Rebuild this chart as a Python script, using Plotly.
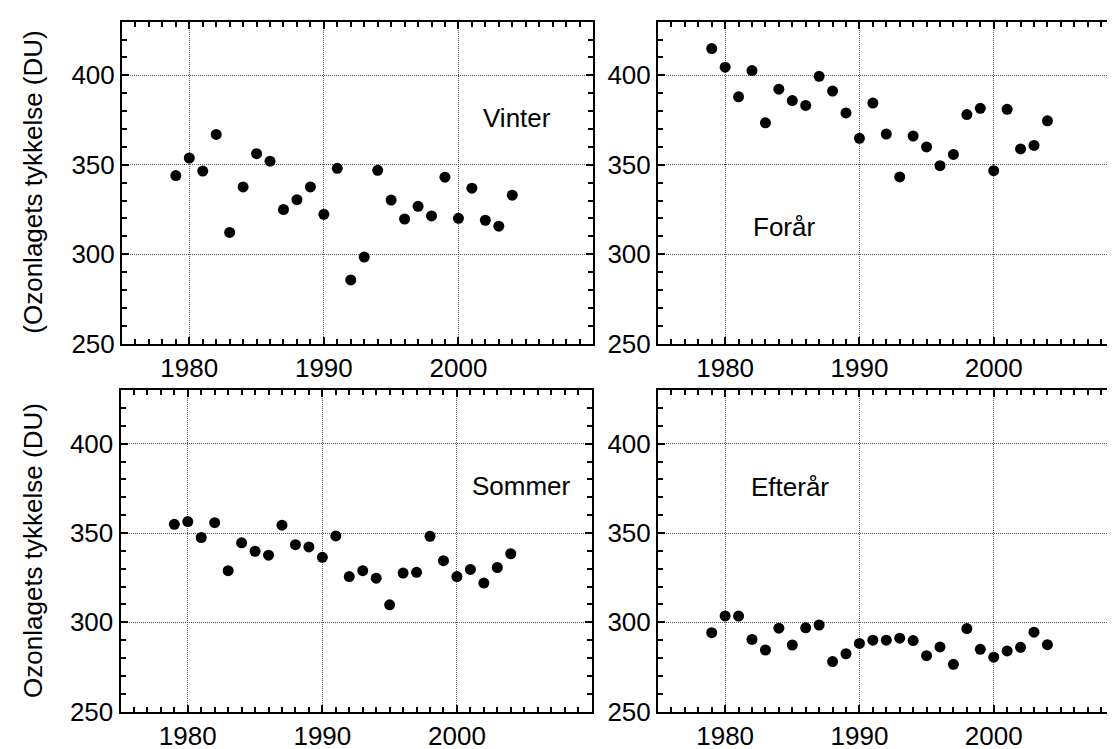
import plotly.graph_objects as go

years = list(range(1979, 2005))

vinter = [344.0, 353.8, 346.5, 367.0, 312.2, 337.6, 356.2, 352.0, 325.0, 330.5,
          337.6, 322.3, 348.0, 285.6, 298.4, 346.9, 330.3, 319.7, 326.8, 321.4,
          343.1, 320.1, 336.9, 319.0, 315.7, 333.0]
foraar = [415.0, 404.6, 388.0, 402.7, 373.5, 392.3, 385.9, 383.2, 399.5, 391.2,
          379.0, 364.8, 384.5, 367.2, 343.2, 366.1, 360.0, 349.5, 355.8, 378.1,
          381.6, 346.7, 381.0, 358.9, 360.8, 374.6]
sommer = [354.9, 356.4, 347.5, 355.8, 328.9, 344.5, 339.8, 337.6, 354.4, 343.5,
          342.2, 336.4, 348.4, 325.6, 328.9, 324.7, 309.8, 327.6, 328.0, 348.2,
          334.5, 325.6, 329.6, 322.0, 330.7, 338.4]
efteraar = [294.2, 303.6, 303.5, 290.4, 284.5, 296.7, 287.3, 296.9, 298.5, 278.0,
            282.4, 288.2, 290.0, 290.0, 291.1, 289.8, 281.3, 286.2, 276.5, 296.5,
            284.9, 280.5, 284.0, 286.0, 294.5, 287.5]

season_labels = ["Vinter", "Forår", "Sommer", "Efterår"]
label_pos = [(2001.7, 376.0), (1981.9, 315.0), (2001.0, 376.5), (1981.8, 376.0)]
y_titles = ["(Ozonlagets tykkelse (DU)", "Ozonlagets tykkelse (DU)"]
x_ticks = [1980, 1990, 2000]
y_ticks = [250, 300, 350, 400]

W, H = 1115, 749
FONT = "Arial, 'Liberation Sans', sans-serif"
FS = 26

# panel boxes in pixels: (left, right, top, bottom)
boxes = [(114, 585, 14, 342.5), (650, 1115, 14, 342.5),
         (112.5, 583.5, 390, 718), (650, 1115, 390, 718)]
series = [vinter, foraar, sommer, efteraar]

fig = go.Figure()
layout = dict(width=W, height=H, margin=dict(l=0, r=0, t=0, b=0),
              paper_bgcolor="white", plot_bgcolor="white", showlegend=False,
              font=dict(family=FONT, size=FS, color="black"))
annotations = []
for i, (b, vals) in enumerate(zip(boxes, series)):
    n = "" if i == 0 else str(i + 1)
    l, r, t, bt = b
    right_col = i in (1, 3)
    xmax = 1975 + (r - l) / (470.0 / 35.0) if right_col else 2010
    layout["xaxis" + n] = dict(
        domain=[l / W, r / W], range=[1975, xmax], anchor="y" + n,
        tickvals=x_ticks, ticks="inside", ticklen=7, tickwidth=1.5, tickcolor="black",
        showline=True, linewidth=2, linecolor="black", mirror="allticks",
        showgrid=True, gridcolor="#555", griddash="1px,1px", gridwidth=1,
        zeroline=False, tickfont=dict(family=FONT, size=FS, color="black"),
        minor=dict(dtick=1, tick0=1975, ticks="inside", ticklen=5, tickwidth=1.5,
                   tickcolor="black", showgrid=False),
    )
    layout["yaxis" + n] = dict(
        domain=[1 - bt / H, 1 - t / H], range=[250, 430], anchor="x" + n,
        tickvals=y_ticks, ticks="inside", ticklen=7, tickwidth=1.5, tickcolor="black",
        showline=True, linewidth=2, linecolor="black",
        mirror=False if right_col else "allticks",
        showgrid=True, gridcolor="#555", griddash="1px,1px", gridwidth=1,
        zeroline=False, tickfont=dict(family=FONT, size=FS, color="black"),
        minor=dict(dtick=10, tick0=250, ticks="inside", ticklen=5, tickwidth=1.5,
                   tickcolor="black", showgrid=False),
    )
    fig.add_trace(go.Scatter(x=years, y=vals, mode="markers",
                             marker=dict(color="black", size=11),
                             xaxis="x" + n, yaxis="y" + n, cliponaxis=False))
    ax, ay = label_pos[i]
    annotations.append(dict(text=season_labels[i], x=ax, y=ay, xref="x" + n, yref="y" + n,
                            xanchor="left", yanchor="middle", showarrow=False,
                            font=dict(family=FONT, size=FS, color="black")))

for j, title in enumerate(y_titles):
    t, bt = (14, 342.5) if j == 0 else (390, 718)
    annotations.append(dict(text=title, x=25 / W, y=1 - (t + bt) / 2 / H, xref="paper",
                            yref="paper", xanchor="center", yanchor="middle",
                            textangle=-90, showarrow=False,
                            font=dict(family=FONT, size=FS, color="black")))

layout["annotations"] = annotations
fig.update_layout(**layout)
fig.write_html("out.html")
